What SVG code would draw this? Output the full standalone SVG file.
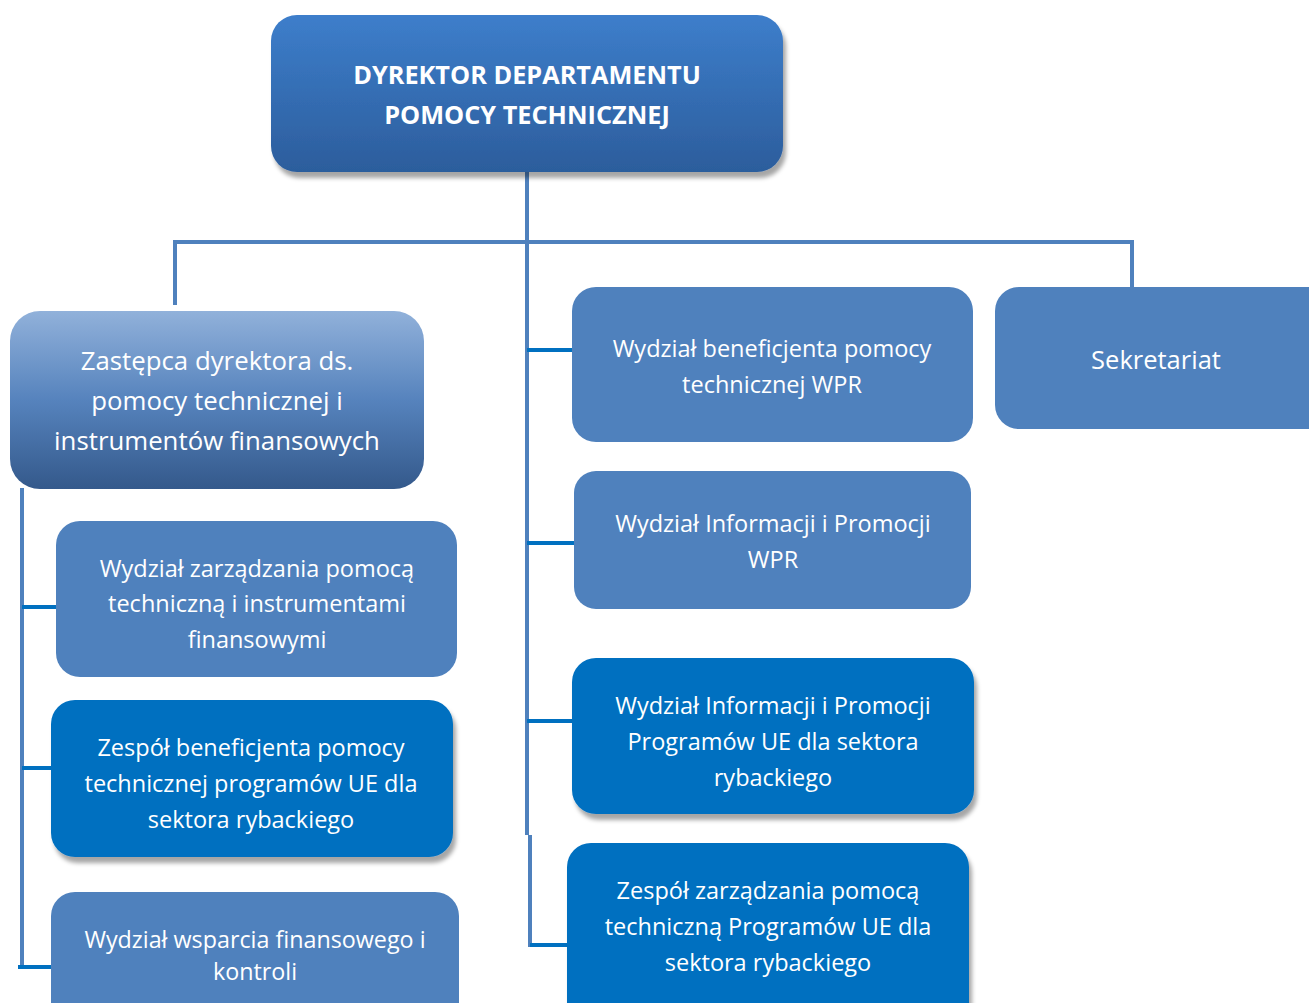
<svg xmlns="http://www.w3.org/2000/svg" width="1309" height="1003" viewBox="0 0 1309 1003">
<defs>
<linearGradient id="gTop" x1="0" y1="0" x2="0" y2="1">
<stop offset="0" stop-color="#3d7ecb"/><stop offset="1" stop-color="#2c5d9c"/>
</linearGradient>
<linearGradient id="gDep" x1="0" y1="0" x2="0" y2="1">
<stop offset="0" stop-color="#91b1da"/><stop offset="0.5" stop-color="#5683bd"/><stop offset="1" stop-color="#34598b"/>
</linearGradient>
<filter id="sh" x="-5%" y="-5%" width="115%" height="125%">
<feDropShadow dx="3" dy="6" stdDeviation="2" flood-color="#000" flood-opacity="0.35"/>
</filter>
</defs>
<style>
.n1{fill:#4f81bd}
.n2{fill:#0070c0}
.c{stroke:#4f81bd;stroke-width:4;fill:none}
.b{stroke:#0070c0;stroke-width:4;fill:none}
text{font-family:"Open Sans","Liberation Sans",sans-serif;fill:#fff;text-anchor:middle}
.t{font-size:23.5px}
.tb{font-size:25.3px;font-weight:bold}
.tz{font-size:25.8px}
.ts{font-size:23.3px}
</style>
<rect width="1309" height="1003" fill="#fff"/>
<g id="connectors">
<path class="c" d="M527 172 V835 M530 835 V947 M175 305 V242 H1132 V288"/>
<path class="c" d="M22 488 V968"/>
<path class="b" d="M527 350 H572 M527 543 H574 M527 721 H572 M530 945 H568"/>
<path class="b" d="M22 607 H56 M22 768 H51 M18 967 H51"/>
</g>
<g id="director">
<rect x="271" y="15" width="512" height="157" rx="26" fill="url(#gTop)" filter="url(#sh)"/>
<text class="tb" x="527" y="84">DYREKTOR DEPARTAMENTU</text>
<text class="tb" x="527" y="124">POMOCY TECHNICZNEJ</text>
</g>
<g id="deputy">
<rect x="10" y="311" width="414" height="178" rx="30" fill="url(#gDep)"/>
<text class="tz" x="217" y="370">Zastępca dyrektora ds.</text>
<text class="tz" x="217" y="410">pomocy technicznej i</text>
<text class="tz" x="217" y="450">instrumentów finansowych</text>
</g>
<g id="wydzial-zarzadzania">
<rect class="n1" x="56" y="521" width="401" height="156" rx="24"/>
<text class="t" x="257" y="577">Wydział zarządzania pomocą</text>
<text class="t" x="257" y="612">techniczną i instrumentami</text>
<text class="t" x="257" y="648">finansowymi</text>
</g>
<g id="zespol-beneficjenta">
<rect class="n2" x="51" y="700" width="402" height="157" rx="24" filter="url(#sh)"/>
<text class="t" x="251" y="756">Zespół beneficjenta pomocy</text>
<text class="t" x="251" y="792">technicznej programów UE dla</text>
<text class="t" x="251" y="828">sektora rybackiego</text>
</g>
<g id="wydzial-wsparcia">
<rect class="n1" x="51" y="892" width="408" height="140" rx="24"/>
<text class="ts" x="255" y="948">Wydział wsparcia finansowego i</text>
<text class="ts" x="255" y="980">kontroli</text>
</g>
<g id="wydzial-beneficjenta-wpr">
<rect class="n1" x="572" y="287" width="401" height="155" rx="24"/>
<text class="t" x="772" y="357">Wydział beneficjenta pomocy</text>
<text class="t" x="772" y="393">technicznej WPR</text>
</g>
<g id="sekretariat">
<rect class="n1" x="995" y="287" width="340" height="142" rx="24"/>
<text class="t" x="1156" y="369" style="font-size:25.5px">Sekretariat</text>
</g>
<g id="wydzial-informacji-wpr">
<rect class="n1" x="574" y="471" width="397" height="138" rx="22"/>
<text class="t" x="773" y="532">Wydział Informacji i Promocji</text>
<text class="t" x="773" y="568">WPR</text>
</g>
<g id="wydzial-informacji-ue">
<rect class="n2" x="572" y="658" width="402" height="156" rx="24" filter="url(#sh)"/>
<text class="t" x="773" y="714">Wydział Informacji i Promocji</text>
<text class="t" x="773" y="750">Programów UE dla sektora</text>
<text class="t" x="773" y="786">rybackiego</text>
</g>
<g id="zespol-zarzadzania">
<rect class="n2" x="567" y="843" width="402" height="190" rx="24" filter="url(#sh)"/>
<text class="t" x="768" y="899">Zespół zarządzania pomocą</text>
<text class="t" x="768" y="935">techniczną Programów UE dla</text>
<text class="t" x="768" y="971">sektora rybackiego</text>
</g>
</svg>
